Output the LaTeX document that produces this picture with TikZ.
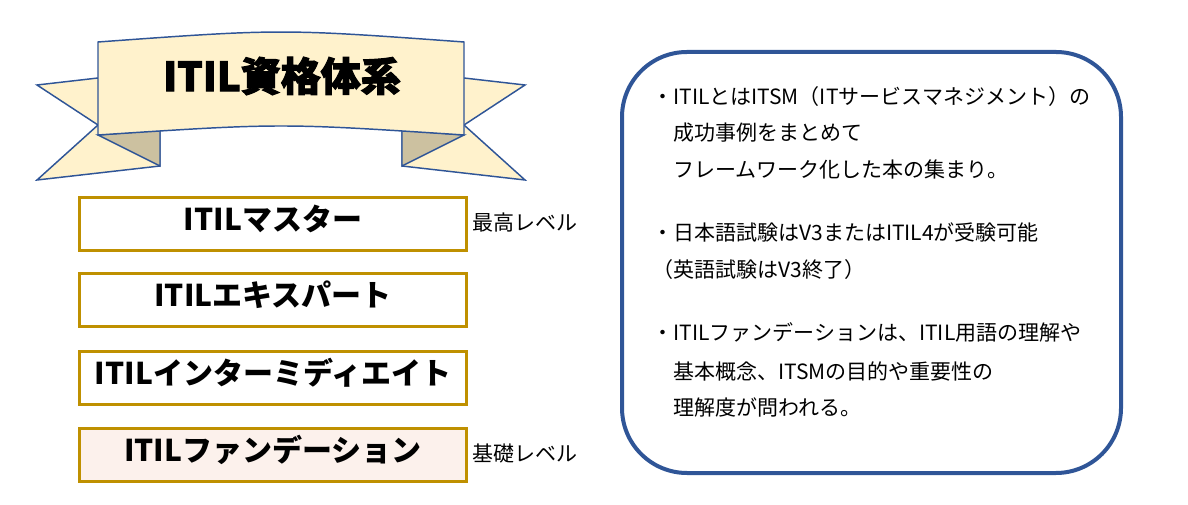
\documentclass[tikz,border=0pt]{standalone}
\usepackage{fontspec}
\setmainfont{Noto Sans CJK JP}
\newfontfamily\jp{Noto Sans CJK JP}
\newfontfamily\jptitle{Noto Sans CJK JP}[BoldFeatures={FakeBold=2.5}]
\definecolor{ribbonfill}{HTML}{FFF2CC}
\definecolor{ribbonline}{HTML}{2F5597}
\definecolor{foldfill}{HTML}{CCC1A0}
\definecolor{boxgold}{HTML}{BF9000}
\definecolor{basefill}{HTML}{FCF1EC}
\definecolor{infoline}{HTML}{2F5597}
\tikzset{
  ribbon/.style={fill=ribbonfill, draw=ribbonline, line width=1.1pt, line join=miter},
  fold/.style={fill=foldfill, draw=ribbonline, line width=1.1pt},
  levelbox/.style={draw=boxgold, line width=2.25pt, minimum width=290.25pt, minimum height=39.75pt, inner sep=0pt,
    font=\jp\bfseries\fontsize{22.5}{27}\selectfont, text height=0.94em, text depth=0em},
  lvlabel/.style={anchor=west, inner sep=0pt, font=\jp\fontsize{15.75}{18}\selectfont},
  infobox/.style={draw=infoline, line width=3pt, rounded corners=48.75pt, minimum width=374.25pt, minimum height=315.75pt},
  infotext/.style={anchor=base west, inner sep=0pt, font=\jp\fontsize{15.75}{18}\selectfont},
}
\begin{document}
\begin{tikzpicture}[x=0.75pt,y=-0.75pt]
\useasboundingbox (0,0) rectangle (1188,505);
% left tail
\draw[ribbon] (37,85) -- (98,78) -- (160,78) -- (160,166) -- (37,180) -- (98,125) -- cycle;
% right tail
\draw[ribbon] (525,85) -- (464,78) -- (402,78) -- (402,166) -- (525,180) -- (464,125) -- cycle;
% folds
\draw[fold] (98,135) -- (160,166) -- (160,130) -- cycle;
\draw[fold] (464,135) -- (402,166) -- (402,130) -- cycle;
% banner
\draw[ribbon] (98,42) .. controls (281,28.7) .. (464,42) -- (464,135) .. controls (281,123) .. (98,135) -- cycle;
\node[font=\jptitle\bfseries\fontsize{30}{36}\selectfont, inner sep=0pt] (title) at (282,76) {ITIL資格体系};
% level boxes
\node[levelbox] (master) at (273,224) {ITILマスター};
\node[levelbox] (expert) at (273,300.5) {ITILエキスパート};
\node[levelbox] (inter) at (273,378) {ITILインターミディエイト};
\node[levelbox, fill=basefill] (found) at (273,455) {ITILファンデーション};
\node[lvlabel] (top) at (472,223) {最高レベル};
\node[lvlabel] (base) at (472,454) {基礎レベル};
% info box
\node[infobox] (info) at (871.5,262.5) {};
\node[infotext] (l1) at (652,105) {・ITILとはITSM（ITサービスマネジメント）の};
\node[infotext] (l2) at (652,141) {\hphantom{・}成功事例をまとめて};
\node[infotext] (l3) at (652,178) {\hphantom{・}フレームワーク化した本の集まり。};
\node[infotext] (l4) at (652,241) {・日本語試験はV3またはITIL4が受験可能};
\node[infotext] (l5) at (652,278) {（英語試験はV3終了）};
\node[infotext] (l6) at (652,341) {・ITILファンデーションは、ITIL用語の理解や};
\node[infotext] (l7) at (652,380) {\hphantom{・}基本概念、ITSMの目的や重要性の};
\node[infotext] (l8) at (652,416) {\hphantom{・}理解度が問われる。};
\end{tikzpicture}
\end{document}
